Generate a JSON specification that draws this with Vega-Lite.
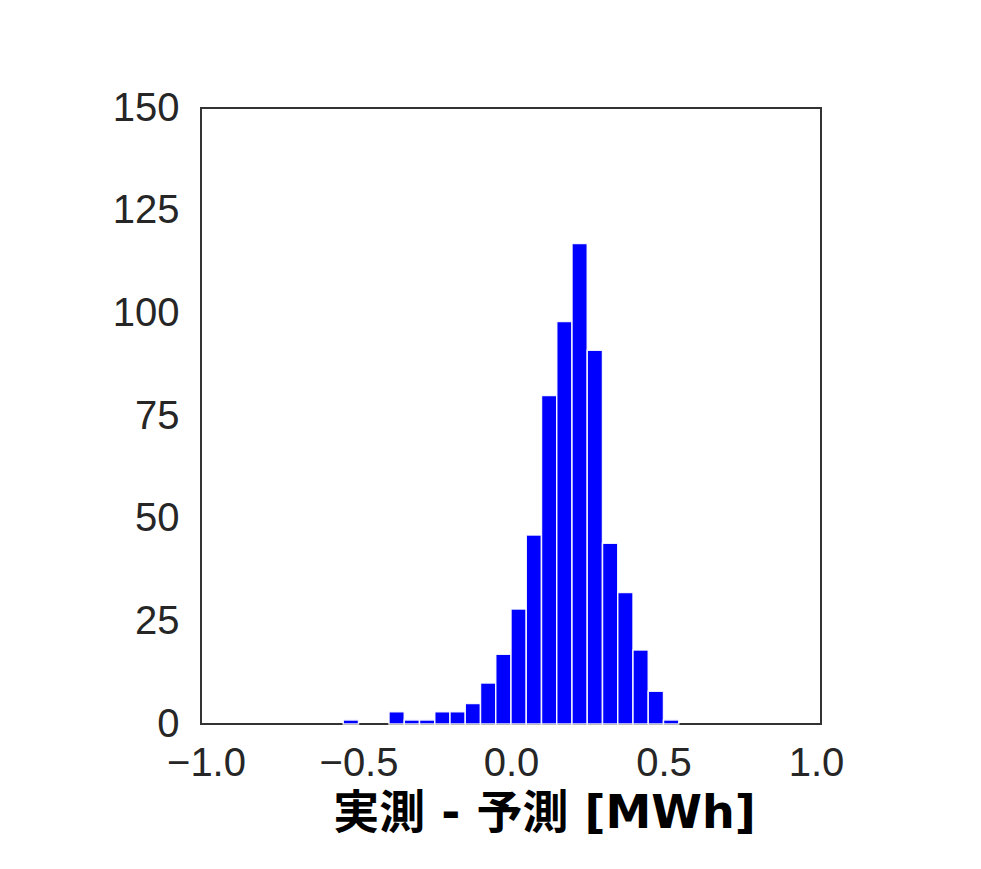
{
  "$schema": "https://vega.github.io/schema/vega-lite/v6.json",
  "width": 620,
  "height": 616,
  "autosize": {"type": "none"},
  "padding": {"left": 201, "top": 108, "right": 160, "bottom": 145},
  "background": "white",
  "data": {
    "values": [
      {"bin_start": -0.55, "bin_end": -0.5, "count": 1},
      {"bin_start": -0.4, "bin_end": -0.35, "count": 3},
      {"bin_start": -0.35, "bin_end": -0.3, "count": 1},
      {"bin_start": -0.3, "bin_end": -0.25, "count": 1},
      {"bin_start": -0.25, "bin_end": -0.2, "count": 3},
      {"bin_start": -0.2, "bin_end": -0.15, "count": 3},
      {"bin_start": -0.15, "bin_end": -0.1, "count": 5},
      {"bin_start": -0.1, "bin_end": -0.05, "count": 10},
      {"bin_start": -0.05, "bin_end": 0.0, "count": 17},
      {"bin_start": 0.0, "bin_end": 0.05, "count": 28},
      {"bin_start": 0.05, "bin_end": 0.1, "count": 46},
      {"bin_start": 0.1, "bin_end": 0.15, "count": 80},
      {"bin_start": 0.15, "bin_end": 0.2, "count": 98},
      {"bin_start": 0.2, "bin_end": 0.25, "count": 117},
      {"bin_start": 0.25, "bin_end": 0.3, "count": 91},
      {"bin_start": 0.3, "bin_end": 0.35, "count": 44},
      {"bin_start": 0.35, "bin_end": 0.4, "count": 32},
      {"bin_start": 0.4, "bin_end": 0.45, "count": 18},
      {"bin_start": 0.45, "bin_end": 0.5, "count": 8},
      {"bin_start": 0.5, "bin_end": 0.55, "count": 1}
    ]
  },
  "mark": {"type": "bar", "color": "#0000ff", "stroke": "white", "strokeWidth": 1.5, "strokeOpacity": 0.9, "orient": "vertical"},
  "encoding": {
    "x": {
      "field": "bin_start",
      "type": "quantitative",
      "scale": {"domain": [-1, 1], "nice": false, "zero": false},
      "axis": {
        "values": [-1, -0.5, 0, 0.5, 1],
        "format": ".1f",
        "title": "実測 - 予測 [MWh]",
        "labelPadding": 19,
        "titlePadding": 8,
        "titleX": 343,
        "titleAnchor": "middle",
        "titleAlign": "center",
        "titleFont": "DejaVu Sans, Noto Sans CJK JP",
        "titleFontWeight": "bold",
        "titleFontSize": 46,
        "titleColor": "#000000"
      }
    },
    "x2": {"field": "bin_end"},
    "y": {
      "field": "count",
      "type": "quantitative",
      "scale": {"domain": [0, 150], "nice": false},
      "axis": {
        "values": [0, 25, 50, 75, 100, 125, 150],
        "title": null,
        "labelPadding": 22
      }
    },
    "y2": {"datum": 0}
  },
  "config": {
    "view": {"stroke": "#333333", "strokeWidth": 2, "fill": "white"},
    "axis": {
      "domain": false,
      "ticks": false,
      "grid": false,
      "labelFont": "Liberation Sans",
      "labelFontSize": 40,
      "labelColor": "#262626",
      "labelFlush": false,
      "labelOverlap": false
    }
  }
}
